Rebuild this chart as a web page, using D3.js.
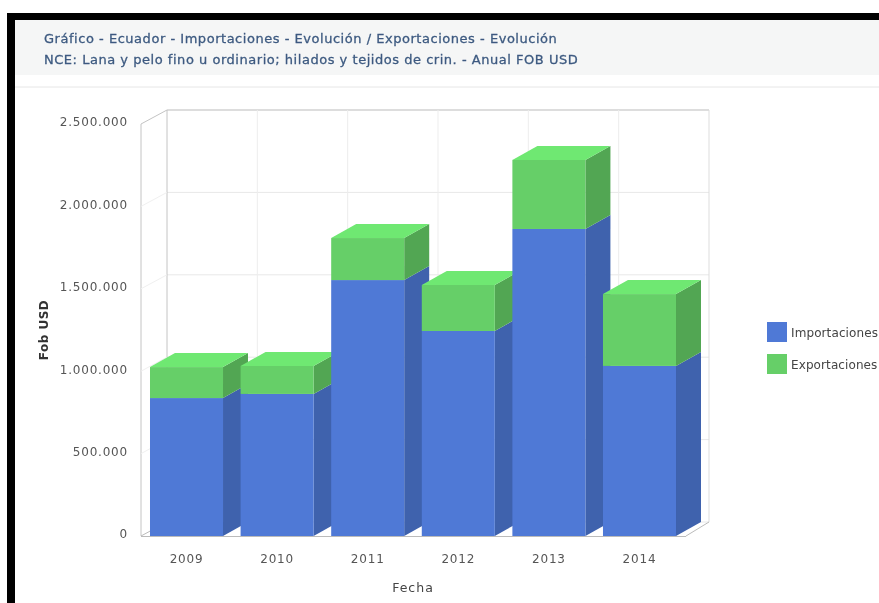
<!DOCTYPE html>
<html><head><meta charset="utf-8">
<script src="https://cdnjs.cloudflare.com/ajax/libs/d3/7.8.5/d3.min.js"></script>
<style>html,body{margin:0;padding:0;background:#fff;overflow:hidden}svg{display:block}text{font-family:"DejaVu Sans",sans-serif}</style>
</head><body><svg id="c" width="879" height="603"></svg>
<script>
const years=["2009","2010","2011","2012","2013","2014"];
const importaciones=[837000,862000,1553000,1244000,1863000,1032000];
const exportaciones=[188000,170000,255000,279000,419000,436000];
const yTicks=[0,500000,1000000,1500000,2000000,2500000];
const yTickLabels=["0","500.000","1.000.000","1.500.000","2.000.000","2.500.000"];
const seriesNames=["Importaciones","Exportaciones"];
const titleLines=["Gráfico - Ecuador - Importaciones - Evolución / Exportaciones - Evolución","NCE: Lana y pelo fino u ordinario; hilados y tejidos de crin. - Anual FOB USD"];
const faceColors=[{front:"#4f79d6",side:"#3f62ad",top:"#5a86e6"},{front:"#66cf68",side:"#52a653",top:"#6fe872"}];
const FONT='"DejaVu Sans",sans-serif';

const svg=d3.select("#c");
const soft=svg.append("defs").append("filter").attr("id","soft");
soft.append("feGaussianBlur").attr("stdDeviation",0.4);

// frame + header
svg.append("rect").attr("x",7).attr("y",13).attr("width",872).attr("height",590).attr("fill","#000");
svg.append("rect").attr("x",15).attr("y",20).attr("width",864).attr("height",583).attr("fill","#fff");
svg.append("rect").attr("x",15).attr("y",20).attr("width",864).attr("height",55).attr("fill","#f5f6f6");
svg.append("line").attr("x1",15).attr("x2",879).attr("y1",87).attr("y2",87).attr("stroke","#e6e6e6");
const tg=svg.append("g").attr("filter","url(#soft)");
titleLines.forEach((t,i)=>tg.append("text").attr("x",44).attr("y",43+i*21).attr("font-size",13).attr("letter-spacing",0.53).attr("fill","#3d5a80").attr("stroke","#3d5a80").attr("stroke-width",0.3).text(t));

// scales
const y=d3.scaleLinear().domain([0,2500000]).range([536,124]);
const x=d3.scaleBand().domain(years).range([141,685]).paddingInner(0.194).paddingOuter(0.0993);
const dx=25,dy=-14;

// back wall and floor
const wallL=167, wallR=709, frontR=686;
const g=svg.append("g");
g.selectAll("line.h").data(yTicks).join("line")
 .attr("x1",wallL).attr("x2",wallR).attr("y1",d=>y(d)+dy).attr("y2",d=>y(d)+dy)
 .attr("stroke",d=>d===2500000?"#bbb":"#e8e8e8");
const xBack=d3.scalePoint().domain(d3.range(years.length+1)).range([wallL,wallR]);
g.selectAll("line.v").data(xBack.domain()).join("line")
 .attr("x1",d=>xBack(d)).attr("x2",d=>xBack(d)).attr("y1",y(2500000)+dy).attr("y2",y(0)+dy)
 .attr("stroke",(d,i)=>(i===0?"#c4c4c4":i===years.length?"#ddd":"#ededed"));
g.append("line").attr("x1",141).attr("x2",141).attr("y1",y(2500000)).attr("y2",y(0)).attr("stroke","#c4c4c4");
g.append("line").attr("x1",141).attr("x2",wallL).attr("y1",y(2500000)).attr("y2",y(2500000)+dy).attr("stroke","#c4c4c4");
g.selectAll("line.s").data(yTicks.slice(1,-1)).join("line").attr("x1",141).attr("x2",wallL).attr("y1",d=>y(d)).attr("y2",d=>y(d)+dy).attr("stroke","#f0f0f0");
g.append("line").attr("x1",141).attr("x2",wallL).attr("y1",y(0)).attr("y2",y(0)+dy).attr("stroke","#bbb");
g.append("line").attr("x1",141).attr("x2",frontR).attr("y1",y(0)+0.5).attr("y2",y(0)+0.5).attr("stroke","#bbb");
g.append("line").attr("x1",frontR).attr("x2",wallR).attr("y1",y(0)).attr("y2",y(0)+dy).attr("stroke","#bbb");

// stacked 3D bars
const rows=years.map((yr,i)=>({yr,importaciones:importaciones[i],exportaciones:exportaciones[i]}));
const stacked=d3.stack().keys(["importaciones","exportaciones"])(rows);
const poly=pts=>pts.map(p=>p.join(",")).join(" ");
years.forEach((yr,i)=>{
  const bar=g.append("g");
  stacked.forEach((s,k)=>{
    const [a,b]=s[i], c=faceColors[k];
    const x0=x(yr),x1=x0+x.bandwidth(),y0=y(a),y1=y(b);
    bar.append("polygon").attr("points",poly([[x1,y0],[x1+dx,y0+dy],[x1+dx,y1+dy],[x1,y1]])).attr("fill",c.side);
    bar.append("rect").attr("x",x0).attr("y",y1).attr("width",x1-x0).attr("height",y0-y1).attr("fill",c.front);
    if(k===stacked.length-1) bar.append("polygon").attr("points",poly([[x0,y1],[x0+dx,y1+dy],[x1+dx,y1+dy],[x1,y1]])).attr("fill",c.top);
  });
});

// axes
const lab=svg.append("g").attr("filter","url(#soft)");
const yAxis=d3.axisLeft(y).tickValues(yTicks).tickSize(0).tickFormat((d,i)=>yTickLabels[i]);
const ya=lab.append("g").attr("transform","translate(134,-2)").call(yAxis);
ya.select(".domain").remove();
ya.selectAll("text").attr("x",-6).attr("font-size",12).attr("letter-spacing",0.8).attr("fill","#555").attr("font-family",FONT);
const xAxis=d3.axisBottom(x).tickSize(0);
const xa=lab.append("g").attr("transform","translate(0,551)").call(xAxis);
xa.select(".domain").remove();
xa.selectAll("text").attr("font-size",12).attr("letter-spacing",0.8).attr("fill","#555").attr("font-family",FONT);
lab.append("text").attr("x",413).attr("y",592).attr("text-anchor","middle").attr("font-size",12.5).attr("letter-spacing",1).attr("fill","#444").text("Fecha");
lab.append("text").attr("transform","translate(48,330) rotate(-90)").attr("text-anchor","middle").attr("font-size",12).attr("font-weight","bold").attr("letter-spacing",0.5).attr("fill","#333").text("Fob USD");

// legend
seriesNames.forEach((n,i)=>{
  const ly=322+i*32;
  svg.append("rect").attr("x",767).attr("y",ly).attr("width",20).attr("height",20).attr("fill",faceColors[i].front);
  lab.append("text").attr("x",791).attr("y",ly+15).attr("font-size",12).attr("letter-spacing",0.1).attr("fill","#444").text(n);
});
</script></body></html>
